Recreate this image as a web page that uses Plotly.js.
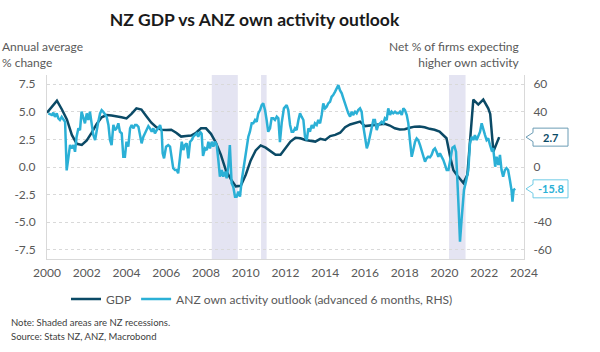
<!DOCTYPE html>
<html>
<head>
<meta charset="utf-8">
<script src="https://cdn.plot.ly/plotly-3.0.1.min.js"></script>
<style>html,body{margin:0;padding:0;background:#fff}#chart{width:600px;height:352px}</style>
</head>
<body>
<div id="chart"></div>
<script>
// ---- data ----
const gdpX = [2000.0,2000.25,2000.5,2000.75,2001.0,2001.25,2001.5,2001.75,2002.0,2002.25,2002.5,2002.75,2003.0,2003.25,2003.5,2003.75,2004.0,2004.25,2004.5,2004.75,2005.0,2005.25,2005.5,2005.75,2006.0,2006.25,2006.5,2006.75,2007.0,2007.25,2007.5,2007.75,2008.0,2008.25,2008.5,2008.75,2009.0,2009.25,2009.5,2009.75,2010.0,2010.25,2010.5,2010.75,2011.0,2011.25,2011.5,2011.75,2012.0,2012.25,2012.5,2012.75,2013.0,2013.25,2013.5,2013.75,2014.0,2014.25,2014.5,2014.75,2015.0,2015.25,2015.5,2015.75,2016.0,2016.25,2016.5,2016.75,2017.0,2017.25,2017.5,2017.75,2018.0,2018.25,2018.5,2018.75,2019.0,2019.25,2019.5,2019.75,2020.1,2020.3,2020.45,2020.65,2020.8,2020.95,2021.15,2021.45,2021.7,2021.95,2022.2,2022.3,2022.46,2022.62,2022.75];
const gdpY = [4.9,5.5,6.0,5.2,4.3,2.9,2.1,2.0,2.4,3.1,3.9,4.5,4.7,4.65,4.6,4.5,4.4,4.8,5.3,5.2,4.6,4.0,3.6,3.37,3.35,3.37,3.1,2.75,2.8,2.85,3.1,3.5,3.5,3.0,2.2,1.1,-0.3,-1.1,-1.75,-1.7,-0.7,0.6,1.5,1.95,1.75,1.4,1.1,1.1,1.75,2.3,2.65,2.6,2.45,2.35,2.3,2.55,2.45,2.8,2.9,3.1,3.6,3.85,4.0,4.1,3.7,3.75,3.82,3.87,3.9,3.75,3.5,3.4,3.42,3.55,3.65,3.67,3.6,3.45,3.37,3.2,2.6,0.8,-0.3,-0.8,-1.15,-1.45,-0.7,6.1,5.65,6.1,5.3,4.8,1.4,2.2,2.7];

const anzX = [2000.07,2000.24,2000.32,2000.40,2000.49,2000.57,2000.65,2000.74,2000.82,2000.91,2000.99,2001.07,2001.16,2001.24,2001.33,2001.41,2001.49,2001.58,2001.66,2001.74,2001.83,2001.91,2002.0,2002.08,2002.16,2002.25,2002.33,2002.42,2002.5,2002.58,2002.67,2002.75,2002.83,2002.92,2003.0,2003.09,2003.17,2003.25,2003.34,2003.42,2003.5,2003.59,2003.67,2003.76,2003.84,2003.92,2004.0,2004.09,2004.18,2004.26,2004.34,2004.43,2004.51,2004.6,2004.68,2004.76,2004.85,2004.93,2005.02,2005.1,2005.18,2005.27,2005.35,2005.43,2005.52,2005.6,2005.69,2005.77,2005.82,2005.89,2005.99,2006.1,2006.19,2006.27,2006.35,2006.44,2006.53,2006.6,2006.69,2006.78,2006.86,2006.94,2007.03,2007.11,2007.2,2007.28,2007.36,2007.45,2007.53,2007.61,2007.7,2007.78,2007.85,2007.95,2008.04,2008.12,2008.2,2008.29,2008.37,2008.45,2008.54,2008.62,2008.7,2008.79,2008.87,2008.96,2009.04,2009.12,2009.2,2009.29,2009.37,2009.46,2009.54,2009.63,2009.71,2009.8,2009.88,2009.96,2010.05,2010.13,2010.21,2010.3,2010.38,2010.47,2010.55,2010.63,2010.72,2010.8,2010.88,2010.97,2011.05,2011.13,2011.22,2011.3,2011.39,2011.47,2011.56,2011.64,2011.72,2011.81,2011.92,2012.06,2012.14,2012.23,2012.31,2012.39,2012.48,2012.56,2012.65,2012.73,2012.81,2012.9,2012.98,2013.07,2013.15,2013.23,2013.32,2013.4,2013.48,2013.57,2013.65,2013.74,2013.82,2013.9,2013.99,2014.07,2014.15,2014.24,2014.32,2014.4,2014.49,2014.58,2014.66,2014.74,2014.83,2014.91,2014.99,2015.08,2015.16,2015.25,2015.33,2015.4,2015.5,2015.58,2015.66,2015.75,2015.83,2015.91,2016.0,2016.09,2016.17,2016.25,2016.34,2016.42,2016.5,2016.59,2016.67,2016.75,2016.84,2016.92,2017.0,2017.09,2017.17,2017.26,2017.34,2017.42,2017.51,2017.6,2017.68,2017.76,2017.85,2017.93,2018.01,2018.1,2018.18,2018.26,2018.35,2018.43,2018.52,2018.6,2018.68,2018.77,2018.85,2018.93,2019.02,2019.1,2019.18,2019.27,2019.35,2019.44,2019.52,2019.6,2019.69,2019.77,2019.86,2019.94,2020.03,2020.11,2020.2,2020.3,2020.4,2020.5,2020.58,2020.7,2020.78,2020.86,2020.98,2021.08,2021.2,2021.28,2021.37,2021.45,2021.53,2021.62,2021.7,2021.79,2021.87,2021.95,2022.04,2022.12,2022.2,2022.29,2022.37,2022.45,2022.55,2022.62,2022.71,2022.79,2022.87,2022.95,2023.04,2023.12,2023.2,2023.29,2023.37,2023.42,2023.48,2023.56];
const anzY = [38.8,37.6,39.2,36.3,38.8,35.2,34,36.3,34.5,32.7,-2.5,7.4,15.9,13.5,15.9,11,21.9,28,26.7,40,36.3,31.6,38.8,34,40,29.1,23.1,19.5,28,32.7,38.8,41.2,40,37.6,36.3,30.4,19.5,15.9,30.4,26.7,28,31.6,25.5,24.3,7.4,7.4,18.3,14.7,28,30.4,28,30.4,30.4,29.1,23.1,17.1,21.9,24.3,27.2,29.6,28,25.5,28,24.3,26.7,28,30.4,25.5,9.9,6.3,14.7,15.9,14.7,7.4,-0.9,-2.2,-2.2,-4.6,9.9,18.3,12.3,15.9,17.1,6.3,18.3,19.5,21.9,23.1,24.3,21.9,25.5,24,8,13.5,12.3,18.3,13.5,18.3,14.7,18.3,15.9,5.1,-7,-2.2,-7,-3.4,-8.2,0.2,15.9,-11.8,-14.2,-21.5,-21.5,-17.9,-21.5,-9.4,-2.2,5.1,14.7,21.9,25.5,31.6,31.6,34,32.7,38.8,41.2,44.8,46,41.2,34,25.5,28,35.2,35.2,34,36.4,35.2,18,32,42.4,44.8,41.2,30.4,25.5,25.5,28,26.7,34,38.8,36.4,34,21.9,19.5,28,25.5,30.4,28,31.6,30.4,34,31.6,37.6,46,42.4,43.6,46,47.2,50.8,52,54.4,56.9,59.3,55.6,53.3,49.6,46,43.6,38.8,36.4,40,37.6,40,38.8,41.2,42.4,40,30,21,13.5,17.1,23.1,29.1,34,34,26.7,30.4,31.6,32.7,31.6,35.2,34,42.4,37.6,40,38.8,40,38.8,38.8,40,37.6,42.4,41.2,37.6,31.6,19.5,7.4,12.3,18.3,20.7,19.5,15.9,12.3,7.4,3.8,6.3,7.4,7,8.7,12.3,13.5,11,7.4,9.9,7.4,5.1,1.4,-2.2,-2.2,5,14,15,11,-26,-54,-38,-16.6,-10.6,-2.2,17.1,21.9,19.5,23.1,19.5,21.9,25.5,31.6,26.7,23.1,19.5,20.7,15.9,12.3,13.5,0.2,7.4,1.4,8.7,-2.2,-7,-2.2,-0.9,-2.2,-9.4,-16.6,-25,-16.6,-15.8];

const recessionStart = [2008.29, 2010.77, 2020.23];
const recessionEnd   = [2009.60, 2011.05, 2021.06];

const leftTickVals  = [-7.5,-5,-2.5,0,2.5,5,7.5];
const leftTickText  = ['-7.5','-5.0','-2.5','0.0','2.5','5.0','7.5'];
// the 20 and -20 labels sit behind the value callouts in the original, so they are left blank
const rightTickVals = [-60,-40,-20,0,20,40,60];
const rightTickText = ['-60','-40','','0','','40','60'];
const xTickVals = [2000,2002,2004,2006,2008,2010,2012,2014,2016,2018,2020,2022,2024];

// ---- styling ----
const GDP_COLOR = '#0b4a66';
const ANZ_COLOR = '#2bb0d6';
const GREY = '#595959';
const FONT = 'Lato, "Open Sans", sans-serif';
const margin = {l:47, r:76, t:75, b:93};
const W = 600, H = 352;
const plotW = W - margin.l - margin.r, plotH = H - margin.t - margin.b;
const yRange = [-8.32, 8.32];
const y2Range = [yRange[0]*8, yRange[1]*8];

function px2paperX(px){ return (px - margin.l)/plotW; }
function px2paperY(py){ return (H - margin.b - py)/plotH; }

const shapes = recessionStart.map((s,i)=>({
  type:'rect', xref:'x', yref:'paper', x0:s, x1:recessionEnd[i], y0:0, y1:1,
  fillcolor:'#e4e4f2', line:{width:0}, layer:'below'
}));

// callouts
function callout(value, yref, span, color, textColor){
  const unit = (span[1]-span[0])/plotH; // data units per px
  const tip = px2paperX(526), bl = px2paperX(533), br = px2paperX(568);
  const h = 9*unit, n = 4.5*unit, v = value;
  shapes.push({type:'path', xref:'paper', yref:yref, layer:'above',
    path:`M${tip},${v} L${bl},${v+n} L${bl},${v+h} L${br},${v+h} L${br},${v-h} L${bl},${v-h} L${bl},${v-n} Z`,
    fillcolor:'white', line:{color:color, width:1}});
  return {xref:'paper', yref:yref, x:(bl+br)/2, y:v, text:'<b>'+value.toFixed(1)+'</b>',
    showarrow:false, xanchor:'center', yanchor:'middle', font:{family:FONT, size:11, color:textColor}};
}
const gdpLast = gdpY[gdpY.length-1];
const anzLast = anzY[anzY.length-1];
const ann1 = callout(gdpLast, 'y', yRange, '#6b9cb5', GDP_COLOR);
const ann2 = callout(anzLast, 'y2', y2Range, '#6fcbe6', ANZ_COLOR);

const annotations = [
  ann1, ann2,
  {xref:'paper', yref:'paper', x:px2paperX(0), y:px2paperY(54), xanchor:'left', yanchor:'middle', align:'left',
   text:'Annual average<br>% change', showarrow:false, font:{family:FONT, size:12, color:GREY}},
  {xref:'paper', yref:'paper', x:px2paperX(522), y:px2paperY(54), xanchor:'right', yanchor:'middle', align:'right',
   text:'Net % of firms expecting<br>higher own activity', showarrow:false, font:{family:FONT, size:12, color:GREY}},
  {xref:'paper', yref:'paper', x:px2paperX(9), y:px2paperY(322), xanchor:'left', yanchor:'middle', align:'left',
   text:'Note: Shaded areas are NZ recessions.', showarrow:false, font:{family:FONT, size:9.5, color:'#404040'}},
  {xref:'paper', yref:'paper', x:px2paperX(9), y:px2paperY(336), xanchor:'left', yanchor:'middle', align:'left',
   text:'Source: Stats NZ, ANZ, Macrobond', showarrow:false, font:{family:FONT, size:9.5, color:'#404040'}}
];

const traces = [
  {x:gdpX, y:gdpY, type:'scatter', mode:'lines', name:'GDP', yaxis:'y',
   line:{color:GDP_COLOR, width:2.5}, hoverinfo:'skip'},
  {x:anzX, y:anzY, type:'scatter', mode:'lines', name:'ANZ own activity outlook (advanced 6 months, RHS)', yaxis:'y2',
   line:{color:ANZ_COLOR, width:2.5}, hoverinfo:'skip'}
];

const layout = {
  width:W, height:H, margin:margin, paper_bgcolor:'#fff', plot_bgcolor:'#fff',
  font:{family:FONT, color:GREY, size:12},
  title:{text:'<b>NZ GDP vs ANZ own activity outlook</b>', x:261/600, xanchor:'center', xref:'paper',
         y:1-20/H, yanchor:'middle', yref:'container', font:{family:FONT, size:17.5, color:'#1a1a1a'}},
  xaxis:{range:[2000,2024], tickvals:xTickVals, showgrid:false, zeroline:false, showline:true,
         linecolor:'#d9d9d9', linewidth:1, ticks:'', ticklabelstandoff:3, tickfont:{family:FONT, size:12, color:GREY}, fixedrange:true},
  yaxis:{range:yRange, tickvals:leftTickVals, ticktext:leftTickText, showgrid:true, gridcolor:'#d9d9d9', griddash:'dot',
         zeroline:false, showline:true, linecolor:'#d9d9d9', ticks:'', ticklabelstandoff:8,
         tickfont:{family:FONT, size:12, color:GREY}, fixedrange:true},
  yaxis2:{range:y2Range, tickvals:rightTickVals, ticktext:rightTickText, overlaying:'y', side:'right', showgrid:false,
          zeroline:false, showline:true, linecolor:'#d9d9d9', ticks:'', ticklabelstandoff:6,
          tickfont:{family:FONT, size:12, color:GREY}, fixedrange:true},
  showlegend:true,
  legend:{orientation:'h', x:px2paperX(262), xanchor:'center', y:px2paperY(299), yanchor:'middle',
          font:{family:FONT, size:12, color:GREY}, itemwidth:30, tracegroupgap:0, bgcolor:'rgba(0,0,0,0)'},
  shapes:shapes,
  annotations:annotations
};

Plotly.newPlot('chart', traces, layout, {displayModeBar:false, staticPlot:true});
</script>
</body>
</html>
